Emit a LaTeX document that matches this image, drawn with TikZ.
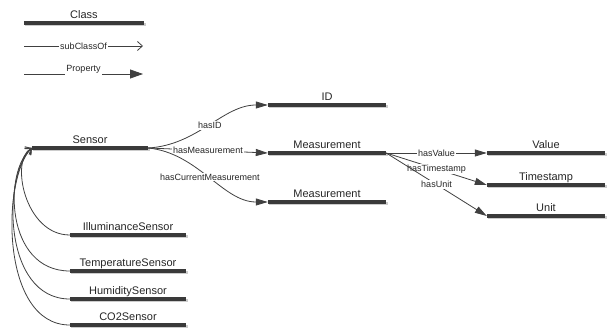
\documentclass[tikz,border=0pt]{standalone}
\usepackage{fontspec}
\setmainfont{Liberation Sans}
\usetikzlibrary{arrows.meta}
\definecolor{barcol}{HTML}{3A3A3A}
\definecolor{linecol}{HTML}{404040}
\begin{document}
\begin{tikzpicture}[x=1pt, y=-1pt,
	classbar/.style={anchor=south, inner xsep=0pt, inner ysep=4.5pt, minimum width=118pt,
		text depth=0pt, text=black!85, font=\fontsize{11}{13}\selectfont,
		append after command={
			([shift={(1.5,1.5)}]\tikzlastnode.south west) edge[draw=black!20, line width=3pt] ([shift={(1.5,1.5)}]\tikzlastnode.south east)
			(\tikzlastnode.south west) edge[draw=barcol, line width=3.5pt] (\tikzlastnode.south east)
		}},
	subcls/.style={draw=linecol, line width=0.8pt, -{Straight Barb[length=5pt, width=9pt]}},
	prop/.style={draw=linecol, line width=0.8pt, -{Triangle[length=12pt, width=7pt]}},
	proplabel/.style={fill=white, inner sep=1pt, text=black!85, font=\fontsize{9}{10}\selectfont}]
	\useasboundingbox (0,0) rectangle (614,331);
	%legend
	\node[classbar, minimum width=120pt] (legClass) at (84,23) {Class};
	\coordinate (subA) at (24,46);
	\coordinate (subB) at (143,46);
	\coordinate (propA) at (24,74);
	\coordinate (propB) at (143,74);
	\draw[subcls] (subA) -- node[proplabel] {subClassOf} (subB);
	\draw[prop, -{Triangle[length=13pt, width=9pt]}] (propA) -- node[proplabel, anchor=base, yshift=2.5pt, text depth=5pt] {Property} (propB);
	%classes
	\node[classbar, minimum width=116pt] (sensor) at (90,148) {Sensor};
	\node[classbar] (id) at (327,105) {ID};
	\node[classbar] (meas) at (327,153) {Measurement};
	\node[classbar] (curMeas) at (327,202) {Measurement};
	\node[classbar] (value) at (546,153) {Value};
	\node[classbar] (tstamp) at (546,185) {Timestamp};
	\node[classbar] (unit) at (546,216) {Unit};
	%subclasses
	\node[classbar, minimum width=116pt] (illum) at (128,235) {IlluminanceSensor};
	\node[classbar, minimum width=116pt] (temp) at (128,271) {TemperatureSensor};
	\node[classbar, minimum width=116pt] (humid) at (128,299) {HumiditySensor};
	\node[classbar, minimum width=116pt] (co2) at (128,325) {CO2Sensor};
	%subClassOf
	\draw[subcls] (illum.south west) .. controls +(-45,0) and +(-22,12) .. (sensor.south west);
	\draw[subcls] (temp.south west) .. controls +(-65,0) and +(-28,22) .. (sensor.south west);
	\draw[subcls] (humid.south west) .. controls +(-68,0) and +(-29,26) .. (sensor.south west);
	\draw[subcls] (co2.south west) .. controls +(-70,0) and +(-30,30) .. (sensor.south west);
	%properties
	\draw[prop] (sensor.south east) .. controls +(50,-3) and +(-45,0) .. node[proplabel] {hasID} (id.south west);
	\draw[prop] (sensor.south east) -- node[proplabel] {hasMeasurement} (meas.south west);
	\draw[prop] (sensor.south east) .. controls +(50,5) and +(-45,0) .. node[proplabel] {hasCurrentMeasurement} (curMeas.south west);
	\draw[prop] (meas.south east) -- node[proplabel] {hasValue} (value.south west);
	\draw[prop] (meas.south east) -- node[proplabel] {hasTimestamp} (tstamp.south west);
	\draw[prop] (meas.south east) -- node[proplabel] {hasUnit} (unit.south west);
\end{tikzpicture}
\end{document}
